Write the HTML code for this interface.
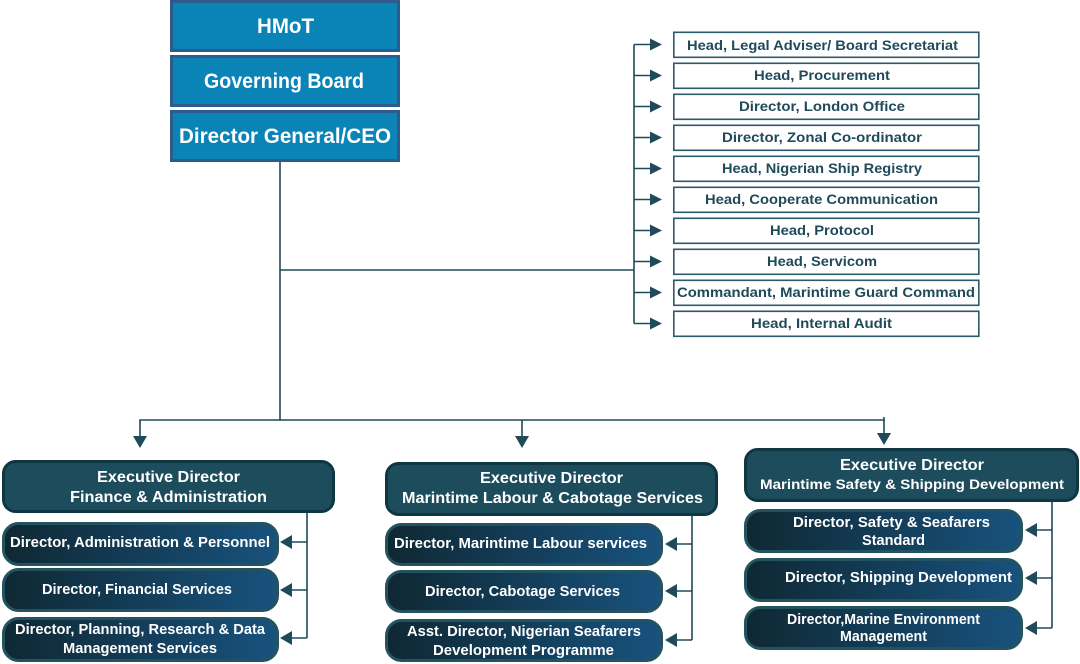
<!DOCTYPE html>
<html>
<head>
<meta charset="utf-8">
<style>
html,body{margin:0;padding:0;background:#fff;}
svg{display:block;}
text{font-family:"Liberation Sans",sans-serif;font-weight:bold;}
.tw{fill:#fff;font-size:21px;}
.rt{fill:#1f4a5a;font-size:14px;}
.ed{fill:#fff;font-size:16px;}
.sb{fill:#fff;font-size:14.5px;}
</style>
</head>
<body>
<svg width="1080" height="664" viewBox="0 0 1080 664" xmlns="http://www.w3.org/2000/svg">
<defs>
<linearGradient id="g" x1="0" y1="0" x2="1" y2="0">
<stop offset="0" stop-color="#0f2833"/>
<stop offset="1" stop-color="#18527e"/>
</linearGradient>
</defs>

<!-- top boxes -->
<g stroke="#2f5b8c" stroke-width="3" fill="#0a83b6">
<rect x="171.5" y="1.5" width="227" height="49"/>
<rect x="171.5" y="56.5" width="227" height="49"/>
<rect x="171.5" y="111.5" width="227" height="49"/>
</g>
<text class="tw" x="257" y="33" textLength="57" lengthAdjust="spacingAndGlyphs">HMoT</text>
<text class="tw" x="204" y="88" textLength="160" lengthAdjust="spacingAndGlyphs">Governing Board</text>
<text class="tw" x="179" y="143" textLength="212" lengthAdjust="spacingAndGlyphs">Director General/CEO</text>

<!-- connectors -->
<g stroke="#1f4a5a" stroke-width="1.6" fill="none">
<line x1="280" y1="162" x2="280" y2="420.8"/>
<line x1="280" y1="270" x2="634" y2="270"/>
<line x1="634" y1="44.5" x2="634" y2="323.5"/>
<line x1="139.2" y1="420" x2="884.8" y2="420"/>
<line x1="140" y1="420" x2="140" y2="437"/>
<line x1="522" y1="420" x2="522" y2="437"/>
<line x1="884" y1="417" x2="884" y2="434"/>
<line x1="307" y1="513" x2="307" y2="638"/>
<line x1="692" y1="516" x2="692" y2="640"/>
<line x1="1052" y1="502" x2="1052" y2="628"/>
</g>
<g fill="#1f4a5a">
<polygon points="133,436 147,436 140,448"/>
<polygon points="515,436 529,436 522,448"/>
<polygon points="877,433 891,433 884,445"/>
</g>

<!-- right column arrows -->
<g stroke="#1f4a5a" stroke-width="1.6">
<line x1="634" y1="44.5" x2="652" y2="44.5"/>
<line x1="634" y1="75.5" x2="652" y2="75.5"/>
<line x1="634" y1="106.5" x2="652" y2="106.5"/>
<line x1="634" y1="137.5" x2="652" y2="137.5"/>
<line x1="634" y1="168.5" x2="652" y2="168.5"/>
<line x1="634" y1="199.5" x2="652" y2="199.5"/>
<line x1="634" y1="230.5" x2="652" y2="230.5"/>
<line x1="634" y1="261.5" x2="652" y2="261.5"/>
<line x1="634" y1="292.5" x2="652" y2="292.5"/>
<line x1="634" y1="323.5" x2="652" y2="323.5"/>
</g>
<g fill="#1f4a5a">
<polygon points="650,38.5 662,44.5 650,50.5"/>
<polygon points="650,69.5 662,75.5 650,81.5"/>
<polygon points="650,100.5 662,106.5 650,112.5"/>
<polygon points="650,131.5 662,137.5 650,143.5"/>
<polygon points="650,162.5 662,168.5 650,174.5"/>
<polygon points="650,193.5 662,199.5 650,205.5"/>
<polygon points="650,224.5 662,230.5 650,236.5"/>
<polygon points="650,255.5 662,261.5 650,267.5"/>
<polygon points="650,286.5 662,292.5 650,298.5"/>
<polygon points="650,317.5 662,323.5 650,329.5"/>
</g>
<g stroke="#2d5a6a" stroke-width="1.6" fill="#fff">
<rect x="673.8" y="32.3" width="305" height="25"/>
<rect x="673.8" y="63.3" width="305" height="25"/>
<rect x="673.8" y="94.3" width="305" height="25"/>
<rect x="673.8" y="125.3" width="305" height="25"/>
<rect x="673.8" y="156.3" width="305" height="25"/>
<rect x="673.8" y="187.3" width="305" height="25"/>
<rect x="673.8" y="218.3" width="305" height="25"/>
<rect x="673.8" y="249.3" width="305" height="25"/>
<rect x="673.8" y="280.3" width="305" height="25"/>
<rect x="673.8" y="311.3" width="305" height="25"/>
</g>
<text class="rt" x="687" y="50" textLength="271" lengthAdjust="spacingAndGlyphs">Head, Legal Adviser/ Board Secretariat</text>
<text class="rt" x="754" y="80" textLength="136" lengthAdjust="spacingAndGlyphs">Head, Procurement</text>
<text class="rt" x="739" y="111" textLength="166" lengthAdjust="spacingAndGlyphs">Director, London Office</text>
<text class="rt" x="722" y="142" textLength="200" lengthAdjust="spacingAndGlyphs">Director, Zonal Co-ordinator</text>
<text class="rt" x="722" y="173" textLength="200" lengthAdjust="spacingAndGlyphs">Head, Nigerian Ship Registry</text>
<text class="rt" x="705" y="204" textLength="233" lengthAdjust="spacingAndGlyphs">Head, Cooperate Communication</text>
<text class="rt" x="770" y="235" textLength="104" lengthAdjust="spacingAndGlyphs">Head, Protocol</text>
<text class="rt" x="767" y="266" textLength="110" lengthAdjust="spacingAndGlyphs">Head, Servicom</text>
<text class="rt" x="677" y="297" textLength="298" lengthAdjust="spacingAndGlyphs">Commandant, Marintime Guard Command</text>
<text class="rt" x="751" y="328" textLength="141" lengthAdjust="spacingAndGlyphs">Head, Internal Audit</text>

<!-- ED boxes -->
<g stroke="#0f3743" stroke-width="3" fill="#1d4d5c">
<rect x="3.5" y="461.5" width="330" height="50" rx="12"/>
<rect x="386.5" y="463.5" width="330" height="51" rx="12"/>
<rect x="745.5" y="449.5" width="332" height="51" rx="12"/>
</g>
<text class="ed" x="97" y="482" textLength="143" lengthAdjust="spacingAndGlyphs">Executive Director</text>
<text class="ed" x="70" y="502" textLength="197" lengthAdjust="spacingAndGlyphs">Finance &amp; Administration</text>
<text class="ed" x="480" y="483" textLength="143" lengthAdjust="spacingAndGlyphs">Executive Director</text>
<text class="ed" x="402" y="503" textLength="301" lengthAdjust="spacingAndGlyphs">Marintime Labour &amp; Cabotage Services</text>
<text class="ed" x="840" y="470" textLength="144" lengthAdjust="spacingAndGlyphs">Executive Director</text>
<text class="ed" style="font-size:14px" x="760" y="489" textLength="304" lengthAdjust="spacingAndGlyphs">Marintime Safety &amp; Shipping Development</text>

<!-- sub boxes -->
<g stroke="#22535f" stroke-width="3" fill="url(#g)">
<rect x="3.5" y="523.5" width="274" height="41" rx="15"/>
<rect x="3.5" y="569.5" width="274" height="41" rx="15"/>
<rect x="3.5" y="618.5" width="274" height="42" rx="15"/>
<rect x="386.5" y="524.5" width="275" height="40" rx="15"/>
<rect x="386.5" y="571.5" width="275" height="40" rx="15"/>
<rect x="386.5" y="620.5" width="275" height="40" rx="15"/>
<rect x="745.5" y="510.5" width="276" height="41" rx="15"/>
<rect x="745.5" y="559.5" width="276" height="41" rx="15"/>
<rect x="745.5" y="607.5" width="276" height="41" rx="15"/>
</g>
<text class="sb" x="10" y="547" textLength="260" lengthAdjust="spacingAndGlyphs">Director, Administration &amp; Personnel</text>
<text class="sb" x="42" y="594" textLength="190" lengthAdjust="spacingAndGlyphs">Director, Financial Services</text>
<text class="sb" x="15" y="634" textLength="250" lengthAdjust="spacingAndGlyphs">Director, Planning, Research &amp; Data</text>
<text class="sb" x="63" y="653" textLength="154" lengthAdjust="spacingAndGlyphs">Management Services</text>
<text class="sb" x="394" y="548" textLength="253" lengthAdjust="spacingAndGlyphs">Director, Marintime Labour services</text>
<text class="sb" x="425" y="596" textLength="195" lengthAdjust="spacingAndGlyphs">Director, Cabotage Services</text>
<text class="sb" x="407" y="636" textLength="234" lengthAdjust="spacingAndGlyphs">Asst. Director, Nigerian Seafarers</text>
<text class="sb" x="433" y="655" textLength="181" lengthAdjust="spacingAndGlyphs">Development Programme</text>
<text class="sb" x="793" y="527" textLength="197" lengthAdjust="spacingAndGlyphs">Director, Safety &amp; Seafarers</text>
<text class="sb" x="862" y="545" textLength="63" lengthAdjust="spacingAndGlyphs">Standard</text>
<text class="sb" x="785" y="582" textLength="227" lengthAdjust="spacingAndGlyphs">Director, Shipping Development</text>
<text class="sb" x="787" y="624" textLength="193" lengthAdjust="spacingAndGlyphs">Director,Marine Environment</text>
<text class="sb" x="840" y="641" textLength="87" lengthAdjust="spacingAndGlyphs">Management</text>

<!-- sub arrows -->
<g stroke="#1f4a5a" stroke-width="1.6">
<line x1="307" y1="542" x2="290" y2="542"/>
<line x1="307" y1="590" x2="290" y2="590"/>
<line x1="307" y1="638" x2="290" y2="638"/>
<line x1="692" y1="544" x2="675" y2="544"/>
<line x1="692" y1="591" x2="675" y2="591"/>
<line x1="692" y1="640" x2="675" y2="640"/>
<line x1="1052" y1="530" x2="1035" y2="530"/>
<line x1="1052" y1="578" x2="1035" y2="578"/>
<line x1="1052" y1="628" x2="1035" y2="628"/>
</g>
<g fill="#1f4a5a">
<polygon points="292,535 280,542 292,549"/>
<polygon points="292,583 280,590 292,597"/>
<polygon points="292,631 280,638 292,645"/>
<polygon points="677,537 665,544 677,551"/>
<polygon points="677,584 665,591 677,598"/>
<polygon points="677,633 665,640 677,647"/>
<polygon points="1037,523 1025,530 1037,537"/>
<polygon points="1037,571 1025,578 1037,585"/>
<polygon points="1037,621 1025,628 1037,635"/>
</g>
</svg>
</body>
</html>
